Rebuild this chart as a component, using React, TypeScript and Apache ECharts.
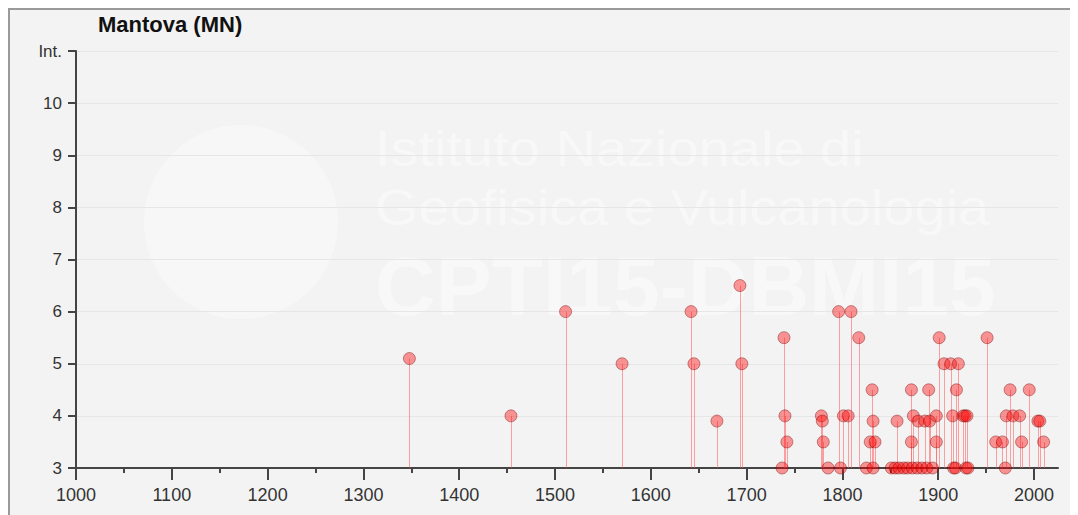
import React, { useEffect, useRef } from "react";
import * as echarts from "echarts";

const chartTitle = "Mantova (MN)";
const yAxisName = "Int.";

const years = [
  1348, 1454, 1511, 1570, 1642, 1645, 1669, 1693, 1695,
  1737, 1739, 1740, 1742, 1778, 1779, 1780, 1785, 1796, 1798,
  1801, 1806, 1809, 1817, 1825, 1829, 1831, 1832, 1832, 1834,
  1851, 1855, 1857, 1859, 1864, 1868, 1872, 1872, 1873, 1874,
  1878, 1879, 1883, 1886, 1888, 1890, 1891, 1894, 1898, 1898,
  1901, 1906, 1913, 1915, 1916, 1918, 1919, 1921, 1926, 1928,
  1929, 1930, 1931, 1951, 1960, 1967, 1970, 1971, 1975, 1978,
  1985, 1987, 1995, 2004, 2006, 2010,
];
const intensities = [
  5.1, 4, 6, 5, 6, 5, 3.9, 6.5, 5,
  3, 5.5, 4, 3.5, 4, 3.9, 3.5, 3, 6, 3,
  4, 4, 6, 5.5, 3, 3.5, 4.5, 3.9, 3, 3.5,
  3, 3, 3.9, 3, 3, 3, 4.5, 3.5, 3, 4,
  3, 3.9, 3, 3.9, 3, 4.5, 3.9, 3, 4, 3.5,
  5.5, 5, 5, 4, 3, 3, 4.5, 5, 4, 4,
  3, 4, 3, 5.5, 3.5, 3.5, 3, 4, 4.5, 4,
  4, 3.5, 4.5, 3.9, 3.9, 3.5,
];

const xLabelValues = [1000, 1100, 1200, 1300, 1400, 1500, 1600, 1700, 1800, 1900, 2000];
const xMinorTickValues = [1050, 1150, 1250, 1350, 1450, 1550, 1650, 1750, 1850, 1950];
const yMin = 3;
const yMax = 11;
const xMin = 1000;
const xMax = 2025;

const watermarkLines = ["Istituto Nazionale di", "Geofisica e Vulcanologia", "CPTI15-DBMI15"];

export default function App() {
  const ref = useRef<HTMLDivElement>(null);
  useEffect(() => {
    if (!ref.current) return;
    const chart = echarts.init(ref.current, null, { renderer: "svg" });
    const data = years.map((y, i) => [y, intensities[i]]);
    const axisColor = "#444";
    const labelFont = "Liberation Sans, Arial, sans-serif";
    const wmFill = "rgba(255,255,255,0.4)";
    chart.setOption({
      animation: false,
      backgroundColor: "#f3f3f3",
      title: {
        text: chartTitle,
        left: 88,
        top: 3,
        padding: 0,
        textStyle: { fontFamily: labelFont, fontWeight: "bold", fontSize: 22, color: "#111" },
      },
      graphic: [
        {
          type: "circle",
          z: -10,
          silent: true,
          shape: { cx: 231, cy: 212, r: 97 },
          style: { fill: "rgba(255,255,255,0.35)" },
        },
        {
          type: "text",
          z: -10,
          silent: true,
          x: 365,
          y: 139,
          scaleX: 1.12,
          style: { text: watermarkLines[0], x: 0, y: 0, verticalAlign: "middle", font: "50px Liberation Sans, Arial, sans-serif", fill: wmFill },
        },
        {
          type: "text",
          z: -10,
          silent: true,
          x: 365,
          y: 198,
          scaleX: 1.12,
          style: { text: watermarkLines[1], x: 0, y: 0, verticalAlign: "middle", font: "50px Liberation Sans, Arial, sans-serif", fill: wmFill },
        },
        {
          type: "text",
          z: -10,
          silent: true,
          x: 365,
          y: 276,
          style: { text: watermarkLines[2], x: 0, y: 0, verticalAlign: "middle", font: "bold 84px Liberation Sans, Arial, sans-serif", fill: wmFill },
        },
      ],
      grid: { left: 66, right: 20, top: 41, bottom: 47, containLabel: false },
      xAxis: [
        {
          type: "value",
          min: xMin,
          max: xMax,
          axisLine: { show: true, onZero: false, lineStyle: { color: axisColor, width: 2 } },
          axisTick: { show: true, length: 12, customValues: xLabelValues, lineStyle: { color: axisColor, width: 2 } },
          axisLabel: {
            customValues: xLabelValues,
            fontSize: 18,
            color: "#333",
            margin: 18,
            fontFamily: labelFont,
            formatter: (v: number) => String(v),
          },
          splitLine: { show: false },
        },
        {
          type: "value",
          min: xMin,
          max: xMax,
          position: "bottom",
          axisLine: { show: false, onZero: false },
          axisTick: { show: true, length: 5, customValues: xMinorTickValues, lineStyle: { color: axisColor, width: 2 } },
          axisLabel: { show: false },
          splitLine: { show: false },
        },
      ],
      yAxis: {
        type: "value",
        min: yMin,
        max: yMax,
        interval: 1,
        axisLine: { show: true, onZero: false, lineStyle: { color: axisColor, width: 2 } },
        axisTick: { show: true, length: 8, lineStyle: { color: axisColor, width: 2 } },
        axisLabel: {
          fontSize: 17,
          color: "#333",
          margin: 14,
          fontFamily: labelFont,
          formatter: (v: number) => (v === yMax ? yAxisName : String(v)),
        },
        splitLine: { show: true, lineStyle: { color: "#e6e6e6", width: 1 } },
      },
      series: [
        {
          type: "custom",
          xAxisIndex: 0,
          silent: true,
          z: 2,
          data,
          encode: { x: 0, y: 1 },
          renderItem: (params: any, api: any) => {
            const top = api.coord([api.value(0), api.value(1)]);
            const base = api.coord([api.value(0), yMin]);
            const x = Math.round(top[0]) + 0.5;
            return {
              type: "line",
              shape: { x1: x, y1: top[1], x2: x, y2: base[1] },
              style: { stroke: "rgba(255,90,90,0.55)", lineWidth: 1 },
            };
          },
        },
        {
          type: "scatter",
          xAxisIndex: 0,
          z: 3,
          symbol: "circle",
          symbolSize: 12,
          data,
          itemStyle: { color: "rgba(255,0,0,0.5)", borderColor: "rgba(110,0,0,0.5)", borderWidth: 1 },
        },
      ],
    });
    return () => chart.dispose();
  }, []);
  return (
    <div
      style={{
        width: 1070,
        height: 507,
        boxSizing: "border-box",
        borderTop: "2px solid #9a9a9a",
        borderLeft: "2px solid #9a9a9a",
        background: "#f3f3f3",
        overflow: "hidden",
      }}
    >
      <div ref={ref} style={{ width: 1068, height: 505 }} />
    </div>
  );
}
